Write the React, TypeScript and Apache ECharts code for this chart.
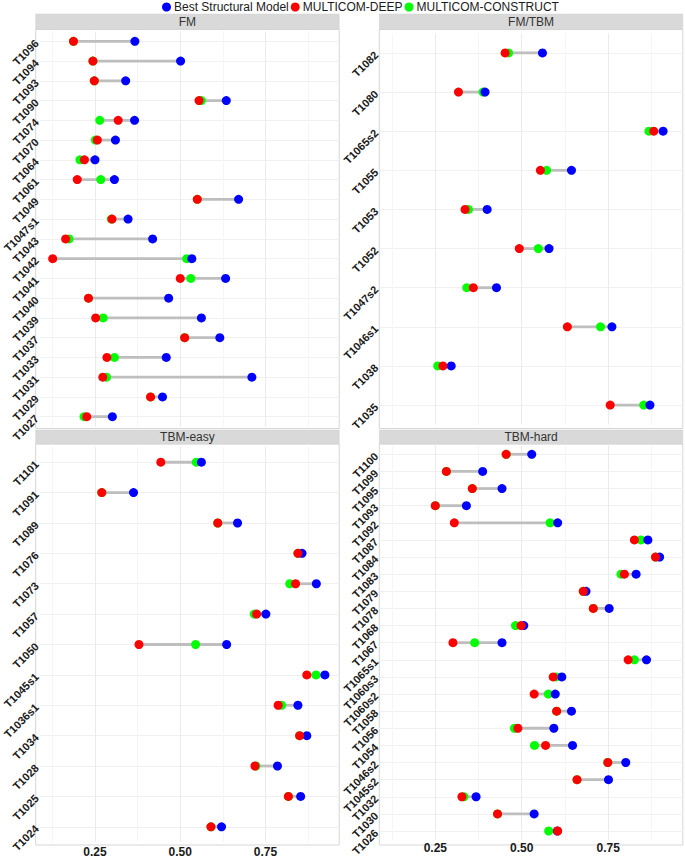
import React, { useEffect, useRef } from "react";
import * as echarts from "echarts";

const xMin = 0.088;
const xMax = 0.966;
const majorTicks = [0.25, 0.5, 0.75];
const minorTicks = [0.125, 0.375, 0.625, 0.875];

const seriesNames = ["Best Structural Model", "MULTICOM-DEEP", "MULTICOM-CONSTRUCT"];
const panelNames = ["FM", "FM/TBM", "TBM-easy", "TBM-hard"];

const fmTargets = ["T1096","T1094","T1093","T1090","T1074","T1070","T1064","T1061","T1049","T1047s1","T1043","T1042","T1041","T1040","T1039","T1037","T1033","T1031","T1029","T1027"];
const fmBest = [0.367,0.501,0.340,0.635,0.366,0.310,0.250,0.307,0.671,0.347,0.419,0.534,0.633,0.466,0.562,0.616,0.459,0.710,0.448,0.301];
const fmDeep = [0.187,0.244,0.248,0.555,0.318,0.257,0.219,0.198,0.550,0.300,0.164,0.126,0.500,0.231,0.252,0.513,0.285,0.273,0.413,0.226];
const fmConstruct = [0.187,0.244,0.248,0.562,0.264,0.251,0.206,0.267,0.550,0.298,0.174,0.519,0.531,0.231,0.274,0.513,0.307,0.284,0.413,0.218];

const fmtbmTargets = ["T1082","T1080","T1065s2","T1055","T1053","T1052","T1047s2","T1046s1","T1038","T1035"];
const fmtbmBest = [0.560,0.394,0.909,0.644,0.400,0.579,0.427,0.761,0.296,0.871];
const fmtbmDeep = [0.452,0.317,0.882,0.554,0.336,0.493,0.360,0.632,0.272,0.756];
const fmtbmConstruct = [0.462,0.388,0.868,0.572,0.346,0.548,0.341,0.728,0.257,0.853];

const easyTargets = ["T1101","T1091","T1089","T1076","T1073","T1057","T1050","T1045s1","T1036s1","T1034","T1028","T1025","T1024"];
const easyBest = [0.562,0.363,0.668,0.857,0.899,0.751,0.636,0.924,0.845,0.871,0.785,0.853,0.621];
const easyDeep = [0.443,0.270,0.610,0.845,0.838,0.724,0.379,0.871,0.787,0.850,0.719,0.817,0.590];
const easyConstruct = [0.547,0.270,0.610,0.845,0.821,0.717,0.545,0.898,0.797,0.850,0.722,0.817,0.590];

const hardTargets = ["T1100","T1099","T1095","T1093","T1092","T1087","T1084","T1083","T1079","T1078","T1068","T1067","T1065s1","T1060s3","T1060s2","T1058","T1056","T1054","T1046s2","T1045s2","T1032","T1030","T1026"];
const hardBest = [0.529,0.387,0.443,0.340,0.604,0.865,0.899,0.831,0.686,0.753,0.506,0.443,0.861,0.616,0.597,0.644,0.593,0.647,0.801,0.751,0.368,0.536,0.603];
const hardDeep = [0.455,0.282,0.357,0.250,0.305,0.826,0.887,0.797,0.678,0.707,0.498,0.301,0.808,0.591,0.536,0.601,0.489,0.569,0.749,0.660,0.327,0.430,0.604];
const hardConstruct = [0.455,0.282,0.357,0.250,0.582,0.845,0.887,0.787,0.678,0.707,0.482,0.364,0.826,0.599,0.577,0.601,0.479,0.537,0.749,0.660,0.333,0.430,0.578];

const FONT = "Liberation Sans, Arial, Helvetica, sans-serif";
const COLORS = { best: "#0000FF", deep: "#FF0000", construct: "#00FF00" };

export default function App() {
  const ref = useRef<HTMLDivElement>(null);

  useEffect(() => {
    if (!ref.current) return;
    const chart = echarts.init(ref.current, null, { renderer: "svg" });

    const panels = [
      { targets: fmTargets, best: fmBest, deep: fmDeep, construct: fmConstruct },
      { targets: fmtbmTargets, best: fmtbmBest, deep: fmtbmDeep, construct: fmtbmConstruct },
      { targets: easyTargets, best: easyBest, deep: easyDeep, construct: easyConstruct },
      { targets: hardTargets, best: hardBest, deep: hardDeep, construct: hardConstruct },
    ];

    const pLeft = [35.7, 379.3, 35.7, 379.3];
    const pWidth = 303.5;
    const pTop = [29.5, 29.5, 444, 444];
    const pHeight = [399, 399, 401, 401];
    const sTop = [14, 14, 430, 430];

    const grids: any[] = [];
    const xAxes: any[] = [];
    const yAxes: any[] = [];
    const series: any[] = [];
    const graphics: any[] = [];

    panels.forEach((p, i) => {
      const n = p.targets.length;
      const sp = pHeight[i] / (n + 0.2);
      grids.push({
        left: pLeft[i],
        top: pTop[i] + 0.1 * sp,
        width: pWidth,
        height: n * sp,
        containLabel: false,
      });
      const bottom = i >= 2;
      xAxes.push({
        type: "value",
        gridIndex: i,
        min: xMin,
        max: xMax,
        axisLine: { show: false },
        axisTick: { show: false, customValues: majorTicks },
        axisLabel: {
          show: bottom,
          customValues: majorTicks,
          formatter: (v: number) => v.toFixed(2),
          fontSize: 12,
          fontWeight: "bold",
          color: "#1a1a1a",
          fontFamily: FONT,
          margin: 0.5 + 0.1 * sp,
        },
        splitLine: { show: true, customValues: majorTicks, lineStyle: { color: "#EBEBEB", width: 1 } },
      });
      xAxes.push({
        type: "value",
        gridIndex: i,
        min: xMin,
        max: xMax,
        axisLine: { show: false },
        axisTick: { show: false, customValues: minorTicks },
        axisLabel: { show: false, customValues: minorTicks },
        splitLine: { show: true, customValues: minorTicks, lineStyle: { color: "#F5F5F5", width: 1 } },
      });
      yAxes.push({
        type: "category",
        gridIndex: i,
        data: p.targets,
        inverse: true,
        axisLine: { show: false },
        axisTick: { show: false, alignWithLabel: true },
        splitLine: { show: true, alignWithLabel: true, lineStyle: { color: "#F0F0F0", width: 1 } },
        axisLabel: {
          rotate: 45,
          fontSize: 11,
          fontWeight: "bold",
          color: "#1a1a1a",
          fontFamily: FONT,
          margin: 3,
          interval: 0,
        },
      });

      // panel border + strip
      graphics.push({
        type: "rect",
        silent: true,
        z: -1,
        shape: { x: pLeft[i], y: pTop[i], width: pWidth, height: pHeight[i] },
        style: { fill: "none", stroke: "#D6D6D6", lineWidth: 1 },
      });
      graphics.push({
        type: "rect",
        silent: true,
        shape: { x: pLeft[i], y: sTop[i], width: pWidth, height: pTop[i] - sTop[i] },
        style: { fill: "#D9D9D9", stroke: "#D0D0D0", lineWidth: 0.5 },
      });
      graphics.push({
        type: "text",
        silent: true,
        x: pLeft[i] + pWidth / 2,
        y: (sTop[i] + pTop[i]) / 2,
        style: {
          text: panelNames[i],
          fill: "#333333",
          fontSize: 12,
          fontFamily: FONT,
          align: "center",
          verticalAlign: "middle",
        },
      });

      const segData = p.targets.map((t, j) => {
        const vals = [p.best[j], p.deep[j], p.construct[j]];
        return [Math.min(...vals), Math.max(...vals), j];
      });
      series.push({
        type: "custom",
        xAxisIndex: i * 2,
        yAxisIndex: i,
        silent: true,
        z: 1,
        encode: { x: [0, 1], y: 2 },
        data: segData,
        renderItem: (params: any, api: any) => {
          const a = api.coord([api.value(0), api.value(2)]);
          const b = api.coord([api.value(1), api.value(2)]);
          return {
            type: "line",
            shape: { x1: a[0], y1: a[1], x2: b[0], y2: b[1] },
            style: { stroke: "#BEBEBE", lineWidth: 2.8 },
          };
        },
      });
      const mk = (name: string, vals: number[], color: string) => ({
        type: "scatter",
        name,
        xAxisIndex: i * 2,
        yAxisIndex: i,
        symbol: "circle",
        symbolSize: 9,
        z: 2,
        itemStyle: { color, opacity: 1 },
        data: vals.map((v, j) => [v, p.targets[j]]),
      });
      series.push(mk(seriesNames[2], p.construct, COLORS.construct));
      series.push(mk(seriesNames[0], p.best, COLORS.best));
      series.push(mk(seriesNames[1], p.deep, COLORS.deep));
    });

    chart.setOption({
      animation: false,
      backgroundColor: "#FFFFFF",
      legend: {
        data: [
          { name: seriesNames[0], itemStyle: { color: COLORS.best } },
          { name: seriesNames[1], itemStyle: { color: COLORS.deep } },
          { name: seriesNames[2], itemStyle: { color: COLORS.construct } },
        ],
        top: 1,
        left: 162,
        padding: 0,
        orient: "horizontal",
        icon: "circle",
        itemWidth: 9,
        itemHeight: 9,
        itemGap: 2,
        selectedMode: false,
        textStyle: { fontSize: 12, color: "#1a1a1a", fontFamily: FONT, padding: [0, 0, 0, -2] },
      },
      grid: grids,
      xAxis: xAxes,
      yAxis: yAxes,
      series,
      graphic: graphics,
    });

    return () => chart.dispose();
  }, []);

  return (
    <div
      ref={ref}
      style={{ position: "fixed", left: 0, top: 0, width: 685, height: 859, background: "#fff" }}
    />
  );
}
